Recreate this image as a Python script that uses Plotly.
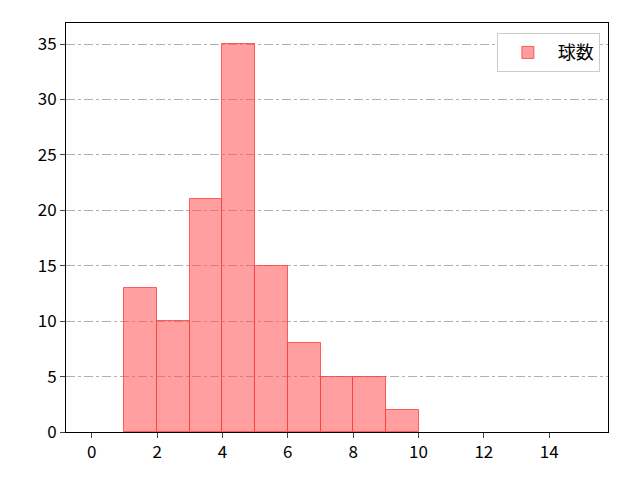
import plotly.graph_objects as go

bin_left = [1, 2, 3, 4, 5, 6, 7, 8, 9]
counts = [13, 10, 21, 35, 15, 8, 5, 5, 2]
xticks = [0, 2, 4, 6, 8, 10, 12, 14]
yticks = [0, 5, 10, 15, 20, 25, 30, 35]

fig = go.Figure()
fig.add_trace(go.Bar(
    x=[b + 0.5 for b in bin_left], y=counts, width=1, name="球数",
    marker=dict(color="rgba(255,80,80,0.55)", line=dict(color="rgba(255,60,60,0.8)", width=1)),
    showlegend=True,
))
fig.update_layout(
    width=640, height=480, plot_bgcolor="white", paper_bgcolor="white",
    margin=dict(l=58, r=40, t=15, b=56),
    font=dict(family="Noto Sans CJK JP, DejaVu Sans", size=17, color="black"),
    bargap=0,
    legend=dict(x=0.985, y=0.975, xanchor="right", yanchor="top",
                bordercolor="#cccccc", borderwidth=1, bgcolor="white", font=dict(size=18),
                itemwidth=50),
    xaxis=dict(range=[-0.79, 15.8], tickvals=xticks, showgrid=False, showline=True,
               linecolor="black", mirror=True, ticks="outside", ticklen=5, zeroline=False),
    yaxis=dict(range=[0, 36.9], tickvals=yticks, showgrid=True, gridcolor="#b0b0b0",
               griddash="dashdot", showline=True, linecolor="black", mirror=True,
               ticks="outside", ticklen=5, zeroline=False),
)
fig.write_html("out.html")
